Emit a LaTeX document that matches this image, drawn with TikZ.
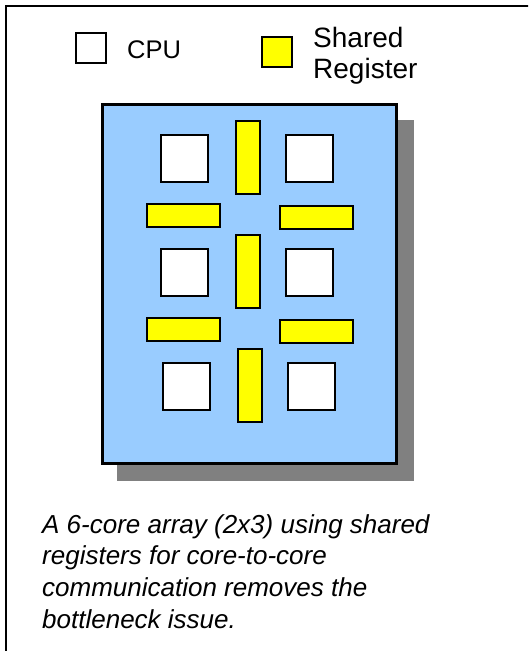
\documentclass[tikz,border=0pt]{standalone}
\usepackage{fontspec}
\setmainfont{Liberation Sans}
\definecolor{chipblue}{HTML}{99CCFF}
\definecolor{regyellow}{HTML}{FFFF00}
\definecolor{shadowgray}{HTML}{808080}
\begin{document}
\begin{tikzpicture}[x=1pt,y=-1pt,
  cpubox/.style={draw=black,line width=2pt,fill=white,rectangle,inner sep=0pt,minimum width=47pt,minimum height=47pt},
  vreg/.style={draw=black,line width=2pt,fill=regyellow,rectangle,inner sep=0pt,minimum width=24pt,minimum height=73pt},
  hreg/.style={draw=black,line width=2pt,fill=regyellow,rectangle,inner sep=0pt,minimum width=73pt,minimum height=23pt},
  legtext/.style={anchor=base west,inner sep=0pt,text=black},
  captext/.style={anchor=base west,inner sep=0pt,text=black,font=\fontsize{26}{31.7}\selectfont\itshape}]
\useasboundingbox (0,0) rectangle (528,651);
\clip (0,0) rectangle (528,651);
\fill[white] (0,0) rectangle (528,651);
% outer frame, running past the right and lower edges
\draw[line width=2.2pt] (6,6) rectangle (560,700);

% legend
\node[cpubox,minimum width=30pt,minimum height=30pt] (legcpu) at (91,48) {};
\node[legtext,font=\fontsize{25.5}{30}\selectfont] (legcputext) at (127,58) {CPU};
\node[vreg,minimum width=30pt,minimum height=30pt] (legreg) at (277,52) {};
\node[legtext,font=\fontsize{28}{31}\selectfont] (legregtext1) at (313,47.7) {Shared};
\node[legtext,font=\fontsize{28}{31}\selectfont] (legregtext2) at (313,78) {Register};

% chip with drop shadow
\fill[shadowgray] (117,120) rectangle (414,481);
\node[draw=black,line width=3pt,fill=chipblue,rectangle,inner sep=0pt,
      minimum width=294pt,minimum height=359pt] (chip) at (249.5,284) {};

% cores
\node[cpubox] (c11) at (184.5,158.5) {};
\node[cpubox] (c12) at (309.5,158.5) {};
\node[cpubox] (c21) at (184.5,272.5) {};
\node[cpubox] (c22) at (309.5,272.5) {};
\node[cpubox] (c31) at (186.5,386.5) {};
\node[cpubox] (c32) at (311.5,386.5) {};

% shared registers between column neighbours
\node[vreg] (v1) at (248,157.5) {};
\node[vreg] (v2) at (248,271.5) {};
\node[vreg] (v3) at (250,385.5) {};

% shared registers between row neighbours
\node[hreg] (h1) at (183.5,215.5) {};
\node[hreg] (h2) at (316,217.5) {};
\node[hreg] (h3) at (183.5,329.5) {};
\node[hreg] (h4) at (316,331.5) {};

% caption
\node[captext] (cap1) at (42,533) {A 6-core array (2x3) using shared};
\node[captext] (cap2) at (42,564.7) {registers for core-to-core};
\node[captext] (cap3) at (42,596.4) {communication removes the};
\node[captext] (cap4) at (42,628) {bottleneck issue.};
\end{tikzpicture}
\end{document}
